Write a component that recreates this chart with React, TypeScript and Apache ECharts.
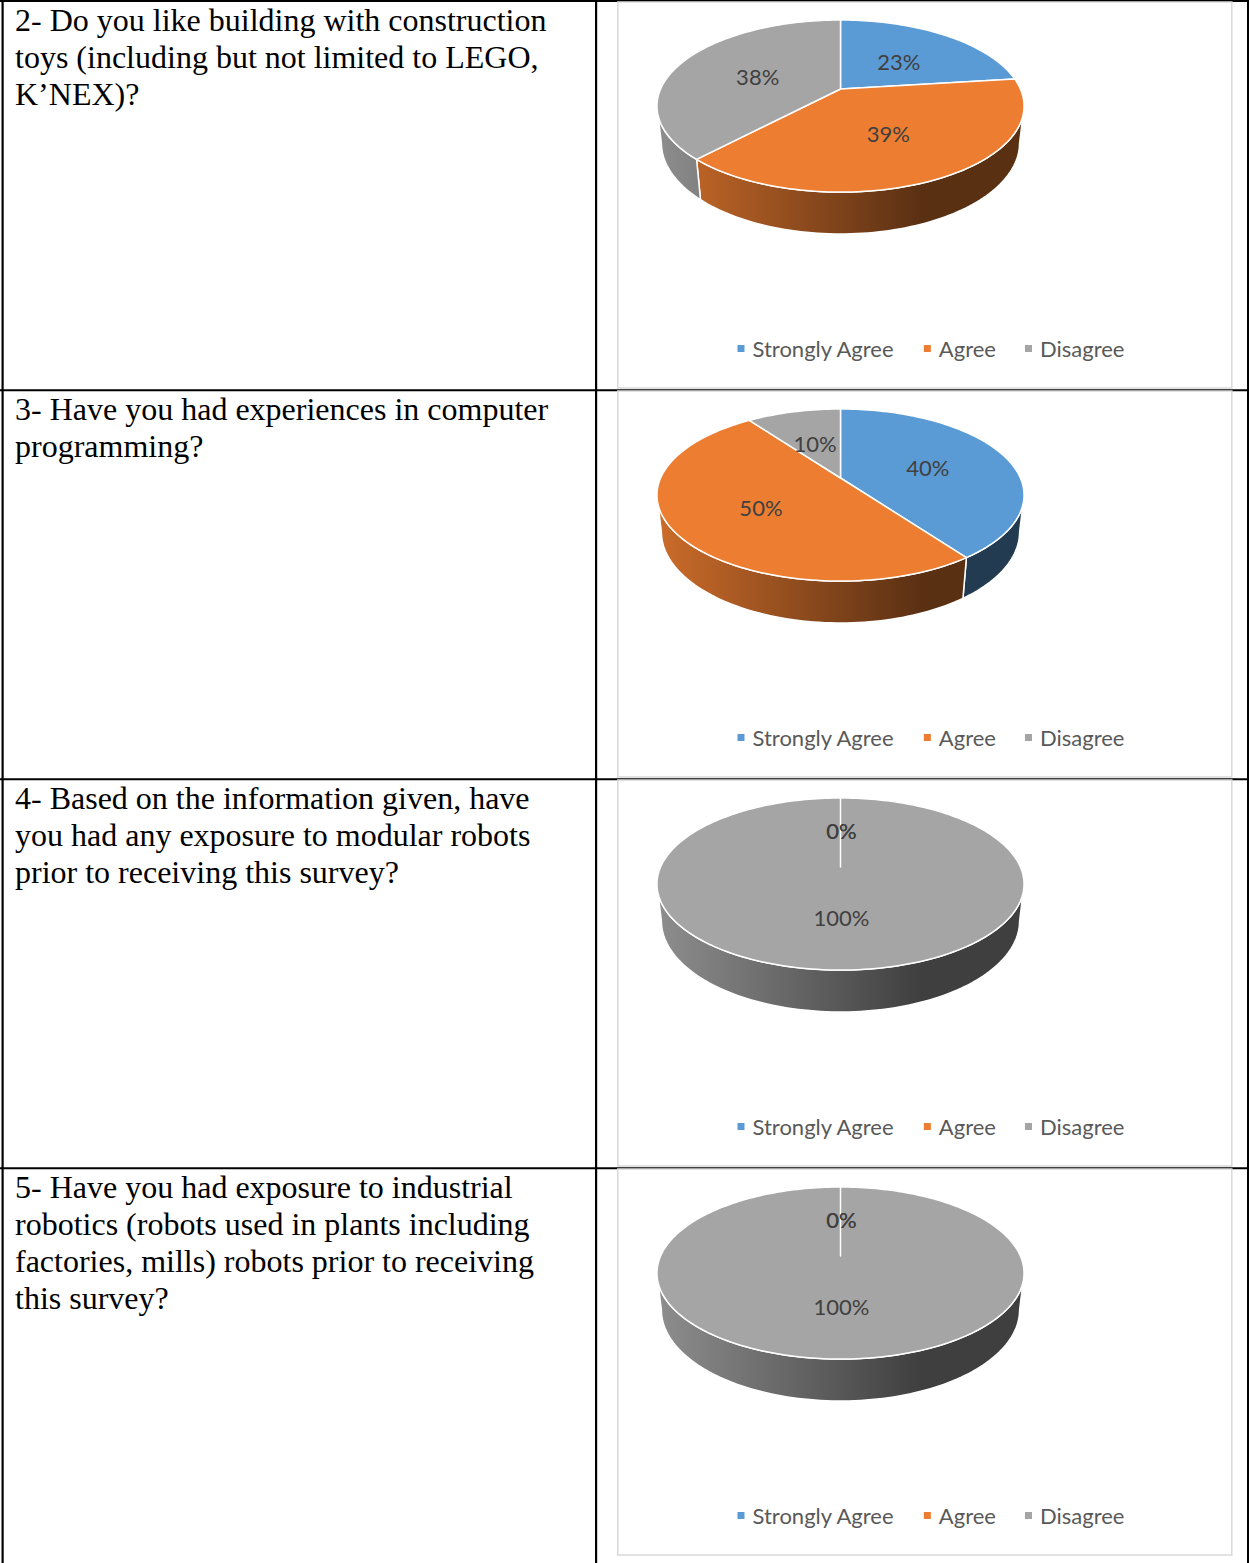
import React, { useEffect, useRef } from 'react';
import * as echarts from 'echarts';

const categories = ['Strongly Agree', 'Agree', 'Disagree'];
const sliceColors = ['#5B9BD5', '#ED7D31', '#A5A5A5'];

const questionLines = [
  ['2- Do you like building with construction', 'toys (including but not limited to LEGO,', 'K\u2019NEX)?'],
  ['3- Have you had experiences in computer', 'programming?'],
  ['4- Based on the information given, have', 'you had any exposure to modular robots', 'prior to receiving this survey?'],
  ['5- Have you had exposure to industrial', 'robotics (robots used in plants including', 'factories, mills) robots prior to receiving', 'this survey?'],
];

const q2Values = [23, 39, 38];
const q3Values = [40, 50, 10];
const q4Values = [0, 0, 100];
const q5Values = [0, 0, 100];
const chartValues = [q2Values, q3Values, q4Values, q5Values];

// layout
const ROW_H = 389;
const PIE_CX = 840.5;
const PIE_CY0 = 89;
// perspective model
const F = 806.7;
const R = 0.223;
const SA = 0.4595;
const CA = 0.888;
const HR = 0.232;
const K = R * CA;
const LABEL_RHO = 0.52;

function proj(cx: number, cy: number, th: number, rho: number, depth: number): number[] {
  const X = rho * Math.sin(th);
  const Z = rho * Math.cos(th);
  const Y = -depth * HR;
  const yc = R * (Z * SA + Y * CA);
  const zc = 1 + R * (Z * CA - Y * SA);
  return [cx + (F * R * X) / zc, cy - (F * yc) / zc];
}

function shade(hex: string, f: number): string {
  const n = parseInt(hex.slice(1), 16);
  const r = Math.round(((n >> 16) & 255) * f);
  const g = Math.round(((n >> 8) & 255) * f);
  const b = Math.round((n & 255) * f);
  return `rgb(${r},${g},${b})`;
}

function arc(cx: number, cy: number, a: number, b: number, depth: number): number[][] {
  const pts: number[][] = [];
  const steps = Math.max(1, Math.ceil(Math.abs(b - a) / (Math.PI / 120)));
  for (let s = 0; s <= steps; s++) {
    const t = a + ((b - a) * s) / steps;
    pts.push(proj(cx, cy, t, 1, depth));
  }
  return pts;
}

function makeRenderItem(chartIdx: number, catIdx: number) {
  return (params: any, api: any) => {
    const vals = chartValues[chartIdx];
    const total = vals.reduce((s, v) => s + v, 0);
    const v = api.value(0);
    let before = 0;
    for (let j = 0; j < catIdx; j++) before += vals[j];
    const a = (before / total) * Math.PI * 2;
    const b = a + (v / total) * Math.PI * 2;
    const cx = PIE_CX;
    const cy = PIE_CY0 + ROW_H * chartIdx;
    const color = sliceColors[catIdx];
    const children: any[] = [];

    const vmin = Math.acos(-K);
    const vmax = Math.PI * 2 - vmin;
    const wa = Math.max(a, vmin);
    const wb = Math.min(b, vmax);
    if (wb > wa) {
      const top = arc(cx, cy, wa, wb, 0);
      const bottom = arc(cx, cy, wb, wa, 1);
      children.push({
        type: 'polygon',
        z2: 1,
        shape: { points: top.concat(bottom) },
        style: {
          fill: new echarts.graphic.LinearGradient(
            cx - 184, 0, cx + 184, 0,
            [
              { offset: 0, color: shade(color, 0.86) },
              { offset: 0.72, color: shade(color, 0.38) },
              { offset: 1, color: shade(color, 0.38) },
            ],
            true
          ),
          stroke: '#ffffff',
          lineWidth: 1.5,
        },
      });
    }

    const c = proj(cx, cy, 0, 0, 0);
    const topPts = [c].concat(arc(cx, cy, a, b, 0));
    children.push({
      type: 'polygon',
      z2: 10,
      shape: { points: topPts },
      style: { fill: color, stroke: '#ffffff', lineWidth: 1.5, lineJoin: 'round' },
    });

    const mid = (a + b) / 2;
    const lp = proj(cx, cy, mid, LABEL_RHO, 0);
    children.push({
      type: 'text',
      z2: 20,
      x: lp[0] + 1,
      y: lp[1] + 2.5,
      style: {
        text: `${Math.round((v / total) * 100)}%`,
        fill: '#404040',
        fontFamily: 'Lato',
        fontSize: 22,
        align: 'center',
        verticalAlign: 'middle',
      },
    });
    return { type: 'group', children };
  };
}

export default function App() {
  const ref = useRef<HTMLDivElement>(null);
  useEffect(() => {
    if (!ref.current) return;
    const chart = echarts.init(ref.current, undefined, { renderer: 'svg' });
    const series: any[] = [];
    chartValues.forEach((vals, i) => {
      vals.forEach((val, j) => {
        series.push({
          type: 'custom',
          name: categories[j],
          coordinateSystem: 'none',
          itemStyle: { color: sliceColors[j] },
          data: [[val]],
          renderItem: makeRenderItem(i, j),
          silent: true,
        });
      });
    });

    const elements: any[] = [];
    // black table lines
    const black = { fill: '#000000' };
    elements.push({ type: 'rect', z: 0, shape: { x: 0, y: 0, width: 1249, height: 2 }, style: black });
    for (let i = 1; i < 4; i++) {
      elements.push({ type: 'rect', z: 0, shape: { x: 0, y: ROW_H * i + 0.3, width: 1249, height: 2 }, style: black });
    }
    elements.push({ type: 'rect', z: 0, shape: { x: 1.5, y: 0, width: 2.2, height: 1563 }, style: black });
    elements.push({ type: 'rect', z: 0, shape: { x: 595, y: 0, width: 2.2, height: 1563 }, style: black });
    elements.push({ type: 'rect', z: 0, shape: { x: 1247, y: 0, width: 2, height: 1563 }, style: black });
    // chart boxes
    for (let i = 0; i < 4; i++) {
      elements.push({
        type: 'rect',
        z: 1,
        shape: { x: 617.8, y: 2 + ROW_H * i, width: 614, height: 386 },
        style: { fill: '#ffffff', stroke: '#d9d9d9', lineWidth: 1.5 },
      });
    }
    // question texts
    questionLines.forEach((lines, i) => {
      elements.push({
        type: 'text',
        z: 3,
        x: 15,
        y: 1.8 + ROW_H * i,
        style: {
          text: lines.join('\n'),
          fill: '#000000',
          fontFamily: '"Liberation Serif", "Times New Roman", serif',
          fontSize: 32,
          lineHeight: 36.8,
          align: 'left',
          verticalAlign: 'top',
        },
      });
    });

    const legends = chartValues.map((_, i) => ({
      data: categories,
      left: 732.5,
      top: 332.5 + ROW_H * i,
      orient: 'horizontal',
      icon: 'rect',
      itemWidth: 7,
      itemHeight: 7,
      itemGap: 29,
      selectedMode: false,
      textStyle: { fontFamily: 'Lato', fontSize: 22, color: '#595959', padding: [0, 0, 0, 3] },
      z: 5,
    }));

    chart.setOption({
      animation: false,
      backgroundColor: '#ffffff',
      legend: legends,
      graphic: { elements },
      series,
    });
    return () => chart.dispose();
  }, []);
  return (
    <div
      ref={ref}
      style={{ position: 'absolute', left: 0, top: 0, width: 1249, height: 1563 }}
    />
  );
}
